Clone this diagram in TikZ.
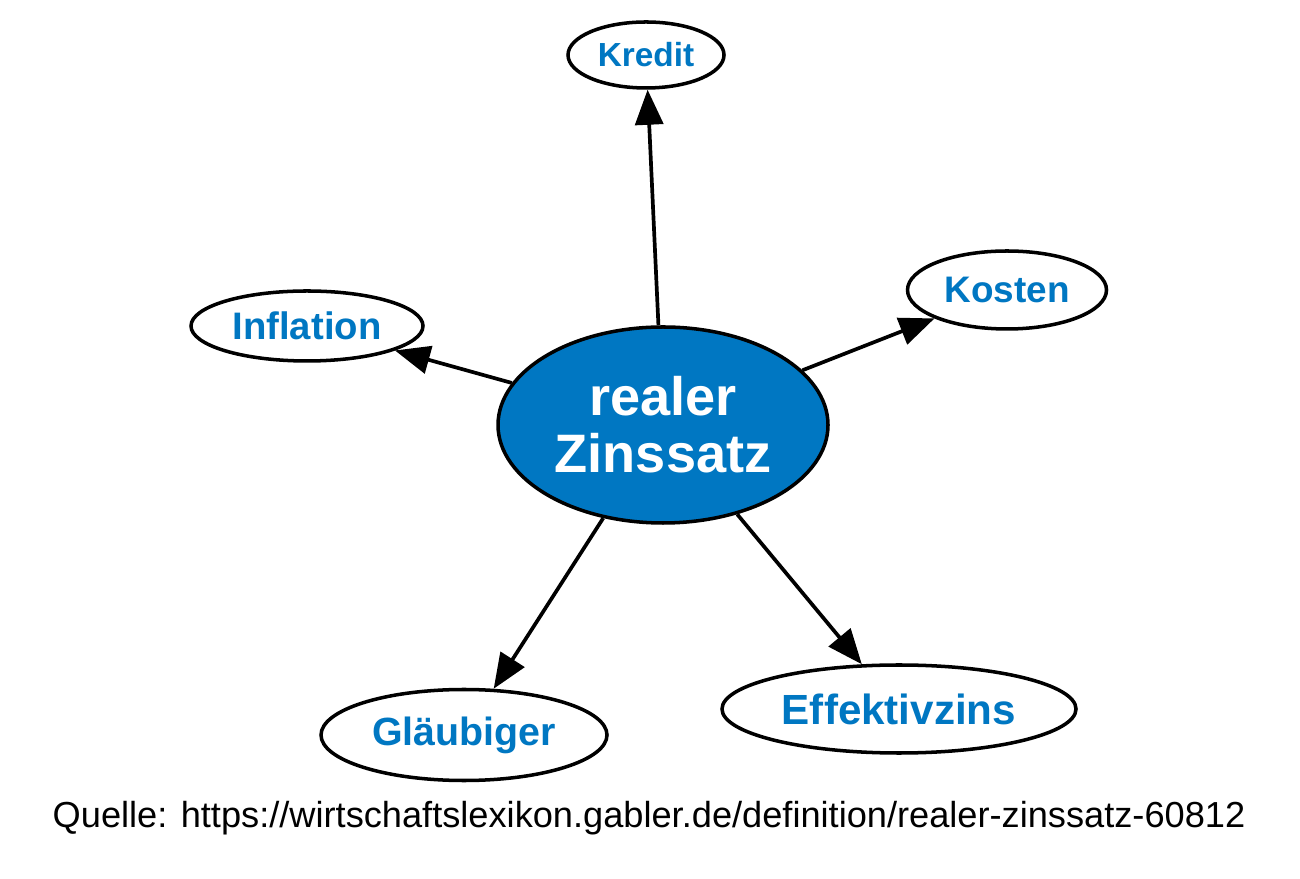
\documentclass[tikz,border=0pt]{standalone}
\usepackage{fontspec}
\setmainfont{Liberation Sans}
\usetikzlibrary{arrows.meta}
\usetikzlibrary{shapes.geometric}
\definecolor{gablerblue}{RGB}{0,119,194}

\tikzset{
  topic/.style={ellipse, draw=black, line width=1pt, fill=white, inner sep=0pt,
    text=gablerblue, font=\bfseries},
  link/.style={line width=1.05pt, -{Triangle[length=0.35cm,width=0.28cm]}}
}

\begin{document}
\begin{tikzpicture}
\useasboundingbox (0,0) rectangle (13,8.78);
\node[topic, fill=gablerblue, text=white, minimum width=3.3cm, minimum height=1.96cm,
  align=center, font=\fontsize{15.4}{16.3}\selectfont\bfseries] (zins) at (6.63,4.53) {realer\\Zinssatz};
\node[topic, minimum width=1.56cm, minimum height=0.66cm, font=\fontsize{9.5}{11}\selectfont\bfseries] (kredit) at (6.46,8.23) {Kredit};
\node[topic, minimum width=1.99cm, minimum height=0.78cm, font=\fontsize{10.5}{12}\selectfont\bfseries] (kosten) at (10.07,5.88) {Kosten};
\node[topic, minimum width=2.32cm, minimum height=0.70cm, font=\fontsize{10.9}{12}\selectfont\bfseries] (inflation) at (3.07,5.52) {Inflation};
\node[topic, minimum width=2.86cm, minimum height=0.91cm, font=\fontsize{11.2}{13}\selectfont\bfseries] (glaeubiger) at (4.64,1.43) {Gläubiger};
\node[topic, minimum width=3.54cm, minimum height=0.88cm, font=\fontsize{12}{14}\selectfont\bfseries] (effektiv) at (8.99,1.69) {Effektivzins};
\node[font=\fontsize{10.3}{12}\selectfont] (quelle) at (6.49,0.60) {Quelle: https://wirtschaftslexikon.gabler.de/definition/realer-zinssatz-60812};
\foreach \t in {kredit,kosten,inflation,glaeubiger,effektiv} {
 \draw[link] (zins) -- (\t);
}
\end{tikzpicture}
\end{document}
